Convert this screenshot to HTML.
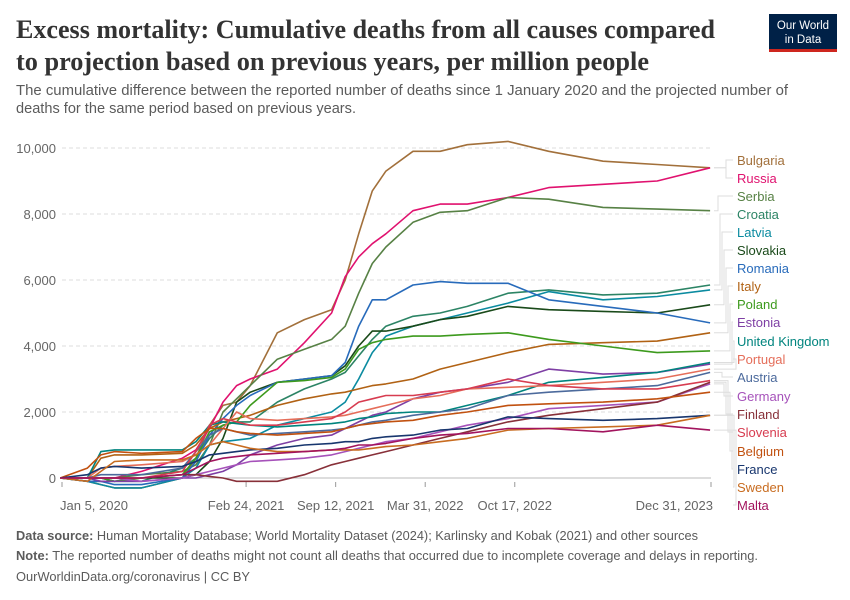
<!DOCTYPE html>
<html><head><meta charset="utf-8"><style>
body{margin:0;background:#fff;}
svg{display:block;font-family:"Liberation Sans",sans-serif;}
</style></head><body>
<svg id="chart" width="850" height="600" viewBox="0 0 850 600">
<text x="16" y="38" font-family="Liberation Serif,serif" font-size="26" font-weight="bold" fill="#333" textLength="699" lengthAdjust="spacingAndGlyphs">Excess mortality: Cumulative deaths from all causes compared</text>
<text x="16" y="70" font-family="Liberation Serif,serif" font-size="26" font-weight="bold" fill="#333" textLength="633" lengthAdjust="spacingAndGlyphs">to projection based on previous years, per million people</text>
<text x="16" y="95" font-size="14.5" fill="#5b5b5b" textLength="772" lengthAdjust="spacingAndGlyphs">The cumulative difference between the reported number of deaths since 1 January 2020 and the projected number of</text>
<text x="16" y="113" font-size="14.5" fill="#5b5b5b" textLength="340" lengthAdjust="spacingAndGlyphs">deaths for the same period based on previous years.</text>
<g>
<rect x="769" y="14" width="68" height="35" fill="#002147"/>
<rect x="769" y="49" width="68" height="3" fill="#ce261e"/>
<text x="803" y="29" font-size="11.5" fill="#fff" text-anchor="middle">Our World</text>
<text x="803" y="43" font-size="11.5" fill="#fff" text-anchor="middle">in Data</text>
</g>
<g id="grid"></g>
<g id="xaxis"></g>
<g id="series"></g>
<g id="legend"></g>
<text x="16" y="540" font-size="12.5" fill="#5b5b5b" textLength="682" lengthAdjust="spacingAndGlyphs"><tspan font-weight="bold">Data source:</tspan> Human Mortality Database; World Mortality Dataset (2024); Karlinsky and Kobak (2021) and other sources</text>
<text x="16" y="560" font-size="12.5" fill="#5b5b5b" textLength="742" lengthAdjust="spacingAndGlyphs"><tspan font-weight="bold">Note:</tspan> The reported number of deaths might not count all deaths that occurred due to incomplete coverage and delays in reporting.</text>
<text x="16" y="581" font-size="12.5" fill="#5b5b5b" textLength="234" lengthAdjust="spacingAndGlyphs">OurWorldinData.org/coronavirus | CC BY</text>
</svg>
<script>
const months=[0,2,3,4,6,9,10,11,12,13,14,16,18,20,21,22,23,24,26,28,30,33,36,40,44,47.9];
const yTicks=[0,2000,4000,6000,8000,10000];
const yTickLabels=["0","2,000","4,000","6,000","8,000","10,000"];
const xTickMonths=[0,13.7,20.3,26.9,33.5,47.9];
const xTickLabels=["Jan 5, 2020","Feb 24, 2021","Sep 12, 2021","Mar 31, 2022","Oct 17, 2022","Dec 31, 2023"];
const names=["Bulgaria","Russia","Serbia","Croatia","Latvia","Slovakia","Romania","Italy","Poland","Estonia","United Kingdom","Portugal","Austria","Germany","Finland","Slovenia","Belgium","France","Sweden","Malta"];
const colors=["#a2703b","#e0126f","#578145","#2c8465","#0b8ba0","#1a4a1a","#286bbb","#b16214","#3d9a1d","#7e3fa4","#00847e","#e56e5a","#4c6a9c","#a652ba","#883039","#d73c50","#c15110","#18366e","#c86c20","#a2145e"];
const vBulgaria=[0,-0.1,-0.2,-0.3,-0.3,0,0.6,1.6,2.2,2.3,2.8,4.4,4.8,5.1,6.0,7.4,8.7,9.3,9.9,9.9,10.1,10.2,9.9,9.6,9.5,9.4];
const vRussia=[0,0,0,0,0.2,0.6,0.85,1.5,2.3,2.8,3.0,3.3,4.1,5.0,6.1,6.7,7.1,7.4,8.1,8.3,8.3,8.5,8.8,8.9,9.0,9.4];
const vSerbia=[0,0,0,0,0.1,0.2,0.4,1.0,2.0,2.4,2.8,3.6,3.9,4.2,4.6,5.6,6.5,7.0,7.75,8.05,8.1,8.5,8.45,8.2,8.15,8.1];
const vCroatia=[0,-0.1,-0.1,-0.1,-0.1,0.3,0.6,1.2,1.6,1.7,1.7,2.3,2.7,3.0,3.2,3.7,4.2,4.6,4.9,5.0,5.2,5.6,5.7,5.55,5.6,5.85];
const vLatvia=[0,-0.1,-0.2,-0.3,-0.3,0,0.3,1.0,1.1,1.15,1.2,1.6,1.8,2.0,2.3,3.0,3.8,4.3,4.6,4.8,5.0,5.3,5.65,5.4,5.5,5.7];
const vSlovakia=[0,0,0,-0.1,0,0,0.1,0.5,1.2,2.3,2.6,2.9,3.0,3.1,3.4,4.0,4.45,4.45,4.6,4.8,4.9,5.2,5.1,5.05,5.0,5.25];
const vRomania=[0,-0.1,-0.1,-0.2,-0.2,0,0.5,1.3,1.8,2.2,2.5,2.9,3.0,3.1,3.5,4.6,5.4,5.4,5.85,5.95,5.9,5.9,5.4,5.2,5.0,4.7];
const vItaly=[0,0,0.6,0.7,0.7,0.75,1.0,1.5,1.7,1.8,1.9,2.2,2.4,2.55,2.6,2.7,2.8,2.85,3.0,3.3,3.5,3.8,4.05,4.1,4.15,4.4];
const vPoland=[0,0,0,-0.1,0,0.1,0.6,1.4,1.6,1.7,2.2,2.9,2.95,3.05,3.3,3.9,4.1,4.2,4.3,4.3,4.35,4.4,4.2,4.0,3.8,3.85];
const vEstonia=[0,0,-0.1,-0.1,-0.1,0,0,0.1,0.2,0.4,0.7,1.0,1.2,1.3,1.5,1.7,1.9,2.0,2.4,2.6,2.7,2.9,3.3,3.15,3.2,3.45];
const vUK=[0,0,0.8,0.85,0.85,0.85,1.1,1.6,1.7,1.65,1.6,1.55,1.6,1.65,1.7,1.8,1.85,1.95,2.0,2.0,2.2,2.5,2.9,3.05,3.2,3.5];
const vPortugal=[0,0,0.3,0.35,0.4,0.5,0.7,1.0,1.5,2.0,1.8,1.75,1.8,1.85,1.9,2.0,2.1,2.2,2.4,2.5,2.7,2.75,2.8,2.9,3.0,3.3];
const vAustria=[0,0,0.1,0.1,0.1,0.3,0.8,1.3,1.5,1.4,1.3,1.35,1.4,1.45,1.5,1.6,1.7,1.75,1.9,2.0,2.1,2.5,2.6,2.7,2.8,3.2];
const vGermany=[0,0,0,0,-0.1,0,0.1,0.2,0.3,0.4,0.5,0.55,0.6,0.7,0.8,0.9,1.0,1.1,1.2,1.4,1.6,1.8,2.1,2.2,2.3,2.85];
const vFinland=[0,0,0,0,0,0.1,0.1,0.05,0,-0.1,-0.1,-0.1,0.1,0.4,0.5,0.6,0.7,0.8,1.0,1.2,1.4,1.7,1.9,2.1,2.3,2.9];
const vSlovenia=[0,0,0,0,0,0.2,0.8,1.6,1.8,1.7,1.6,1.6,1.7,1.8,2.0,2.3,2.4,2.5,2.5,2.6,2.7,3.0,2.8,2.7,2.7,2.95];
const vBelgium=[0,0.3,0.7,0.8,0.75,0.8,1.2,1.5,1.5,1.4,1.35,1.3,1.35,1.4,1.5,1.6,1.65,1.7,1.75,1.9,2.0,2.2,2.25,2.3,2.4,2.6];
const vFrance=[0,0.1,0.3,0.35,0.3,0.35,0.5,0.7,0.75,0.8,0.85,0.9,1.0,1.05,1.1,1.1,1.2,1.25,1.3,1.45,1.5,1.85,1.8,1.75,1.8,1.9];
const vSweden=[0,-0.1,0.2,0.5,0.55,0.55,0.7,1.0,1.1,1.0,0.9,0.8,0.8,0.85,0.85,0.85,0.9,0.95,1.0,1.1,1.2,1.45,1.5,1.55,1.6,1.9];
const vMalta=[0,0,0,0,0,0.1,0.3,0.5,0.6,0.65,0.7,0.75,0.8,0.85,0.9,1.0,1.0,1.05,1.2,1.3,1.35,1.5,1.5,1.4,1.6,1.45];
const seriesVals=[vBulgaria,vRussia,vSerbia,vCroatia,vLatvia,vSlovakia,vRomania,vItaly,vPoland,vEstonia,vUK,vPortugal,vAustria,vGermany,vFinland,vSlovenia,vBelgium,vFrance,vSweden,vMalta];

const NS="http://www.w3.org/2000/svg";
const X0=62,X1=711,Y0=478,Y10=148;
function xs(m){return X0+(m*30.44-4)/1456*(X1-X0);}
function ys(v){return Y0-(v/10000)*(Y0-Y10);}
function mk(tag,attrs,parent){const e=document.createElementNS(NS,tag);for(const k in attrs)e.setAttribute(k,attrs[k]);parent.appendChild(e);return e;}
const grid=document.getElementById('grid');
yTicks.forEach((t,i)=>{
  const l=mk('line',{x1:X0,x2:X1,y1:ys(t),y2:ys(t),stroke:t===0?'#bbb':'#ddd','stroke-dasharray':t===0?'':'4,3'},grid);
  
  
  const tx=mk('text',{x:56,y:ys(t)+5,'text-anchor':'end','font-size':13,fill:'#666'},grid);
  tx.textContent=yTickLabels[i];
  
  
});
const xa=document.getElementById('xaxis');
xTickMonths.forEach((m,i)=>{
  const x=m===0?X0:(i===xTickMonths.length-1?X1:xs(m));
  const l=mk('line',{x1:x,x2:x,y1:482,y2:487,stroke:'#999'},xa);
  
  
  const tx=mk('text',{x:i===0?x-2:(i===xTickMonths.length-1?x+2:x),y:510,'text-anchor':i===0?'start':(i===xTickMonths.length-1?'end':'middle'),'font-size':13,fill:'#666'},xa);
  tx.textContent=xTickLabels[i];
  
  
});
const sg=document.getElementById('series');
const lg=document.getElementById('legend');
const labelY=[160,178,196,214,232,250,268,286,304,322,341,359,377,396,414,432,451,469,487,505];
const elbowX=[726,726,718,720,722,724,726,728,730,732,734,736,722,724,726,728,730,732,734,736];
seriesVals.forEach((vals,i)=>{
  let d='';
  months.forEach((m,j)=>{d+=(j?'L':'M')+xs(m).toFixed(1)+','+ys(vals[j]*1000).toFixed(1);});
  const p=mk('path',{d:d,fill:'none',stroke:colors[i],'stroke-width':1.6,'stroke-linejoin':'round'},sg);
  
  
  const ye=ys(vals[vals.length-1]*1000);
  const c=mk('path',{d:'M714,'+ye.toFixed(1)+'H'+elbowX[i]+'V'+labelY[i]+'H733',fill:'none',stroke:'#ddd','stroke-width':1},lg);
  
  
  const t=mk('text',{x:737,y:labelY[i]+5,'font-size':13,fill:colors[i]},lg);
  t.textContent=names[i];
  
  
});
</script>
</body></html>
